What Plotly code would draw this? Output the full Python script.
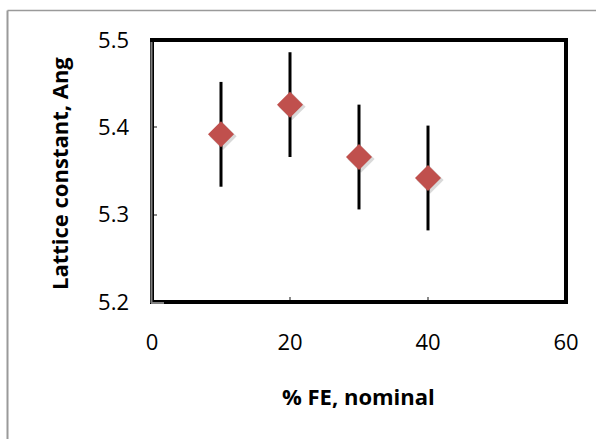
import plotly.graph_objects as go

# ---- data ----
fe_nominal = [10, 20, 30, 40]
lattice_constant = [5.392, 5.426, 5.366, 5.342]
lattice_error = [0.06, 0.06, 0.06, 0.06]
x_tick_vals = [0, 20, 40, 60]
y_tick_vals = [5.2, 5.3, 5.4, 5.5]
x_title = "% FE, nominal"
y_title = "Lattice constant, Ang"

# ---- layout geometry (pixels) ----
W, H = 596, 439
L, R, T, B = 152, 30, 40, 137
PW, PH = W - L - R, H - T - B
X_RANGE = [0, 60]
Y_RANGE = [5.2, 5.5]


def px_x(px):
    return (px - L) / PW


def px_y(py):
    return (H - B - py) / PH


FONT = "Open Sans"
marker_color = "#C0504D"

# shadow offset (2px right / down) in data units
dx = 2 * (X_RANGE[1] - X_RANGE[0]) / PW
dy = 2 * (Y_RANGE[1] - Y_RANGE[0]) / PH
shadow_x = [v + dx for v in fe_nominal]
shadow_y = [v - dy for v in lattice_constant]

fig = go.Figure()
fig.add_trace(go.Scatter(
    x=fe_nominal, y=lattice_constant, mode="markers",
    error_y=dict(type="data", array=lattice_error, visible=True,
                 color="black", thickness=3, width=0),
    marker=dict(symbol="diamond", size=1, color="rgba(0,0,0,0)"),
    hoverinfo="skip", showlegend=False,
))
fig.add_trace(go.Scatter(
    x=shadow_x, y=shadow_y, mode="markers",
    marker=dict(symbol="diamond", size=21, color="rgba(0,0,0,0.15)",
                line=dict(width=0)),
    hoverinfo="skip", showlegend=False,
))
fig.add_trace(go.Scatter(
    x=fe_nominal, y=lattice_constant, mode="markers",
    marker=dict(symbol="diamond", size=20, color=marker_color,
                line=dict(width=0)),
    showlegend=False,
))

axis_common = dict(
    showgrid=False, zeroline=False, showline=False,
    ticks="inside", ticklen=5, tickwidth=2, tickcolor="#8a8a8a",
    tickfont=dict(family=FONT, size=22, color="black"),
)
fig.update_xaxes(range=X_RANGE, tickvals=x_tick_vals, ticklabelstandoff=25,
                 **axis_common)
fig.update_yaxes(range=Y_RANGE, tickvals=y_tick_vals,
                 tickformat=".1f", ticklabelstandoff=22, **axis_common)

shapes = []
# outer chart border (top and left only visible)
shapes.append(dict(type="line", xref="paper", yref="paper",
                   x0=px_x(7.5), x1=px_x(W + 5), y0=px_y(10.5), y1=px_y(10.5),
                   line=dict(color="#9a9a9a", width=1.5)))
shapes.append(dict(type="line", xref="paper", yref="paper",
                   x0=px_x(7.5), x1=px_x(7.5), y0=px_y(10.5), y1=px_y(H + 5),
                   line=dict(color="#9a9a9a", width=2)))
# plot box: black frame
shapes.append(dict(type="rect", xref="paper", yref="paper",
                   x0=0, x1=1, y0=0, y1=1,
                   line=dict(color="black", width=4)))
# gray inner stripe on left and bottom edges
shapes.append(dict(type="line", xref="paper", yref="paper",
                   x0=px_x(L - 0.5), x1=px_x(L - 0.5), y0=px_y(T + 2), y1=px_y(H - B + 1),
                   line=dict(color="#808080", width=2)))
shapes.append(dict(type="line", xref="paper", yref="paper",
                   x0=px_x(L - 1), x1=px_x(L + 12), y0=px_y(H - B + 1), y1=px_y(H - B + 1),
                   line=dict(color="#808080", width=2)))

annotations = [
    dict(text=x_title, xref="paper", yref="paper", x=px_x(358), y=px_y(396),
         xanchor="center", yanchor="middle", showarrow=False,
         font=dict(family=FONT, size=22, color="black", weight="bold")),
    dict(text=y_title, xref="paper", yref="paper", x=px_x(59), y=px_y(174),
         xanchor="center", yanchor="middle", showarrow=False, textangle=-90,
         font=dict(family=FONT, size=22, color="black", weight="bold")),
]

fig.update_layout(
    width=W, height=H,
    margin=dict(l=L, r=R, t=T, b=B, pad=0),
    paper_bgcolor="white", plot_bgcolor="white",
    shapes=shapes, annotations=annotations,
    font=dict(family=FONT),
)

fig.write_html(
    "out.html",
    config={"displayModeBar": False},
    post_script="document.body.style.margin='0';document.body.style.overflow='hidden';",
)
